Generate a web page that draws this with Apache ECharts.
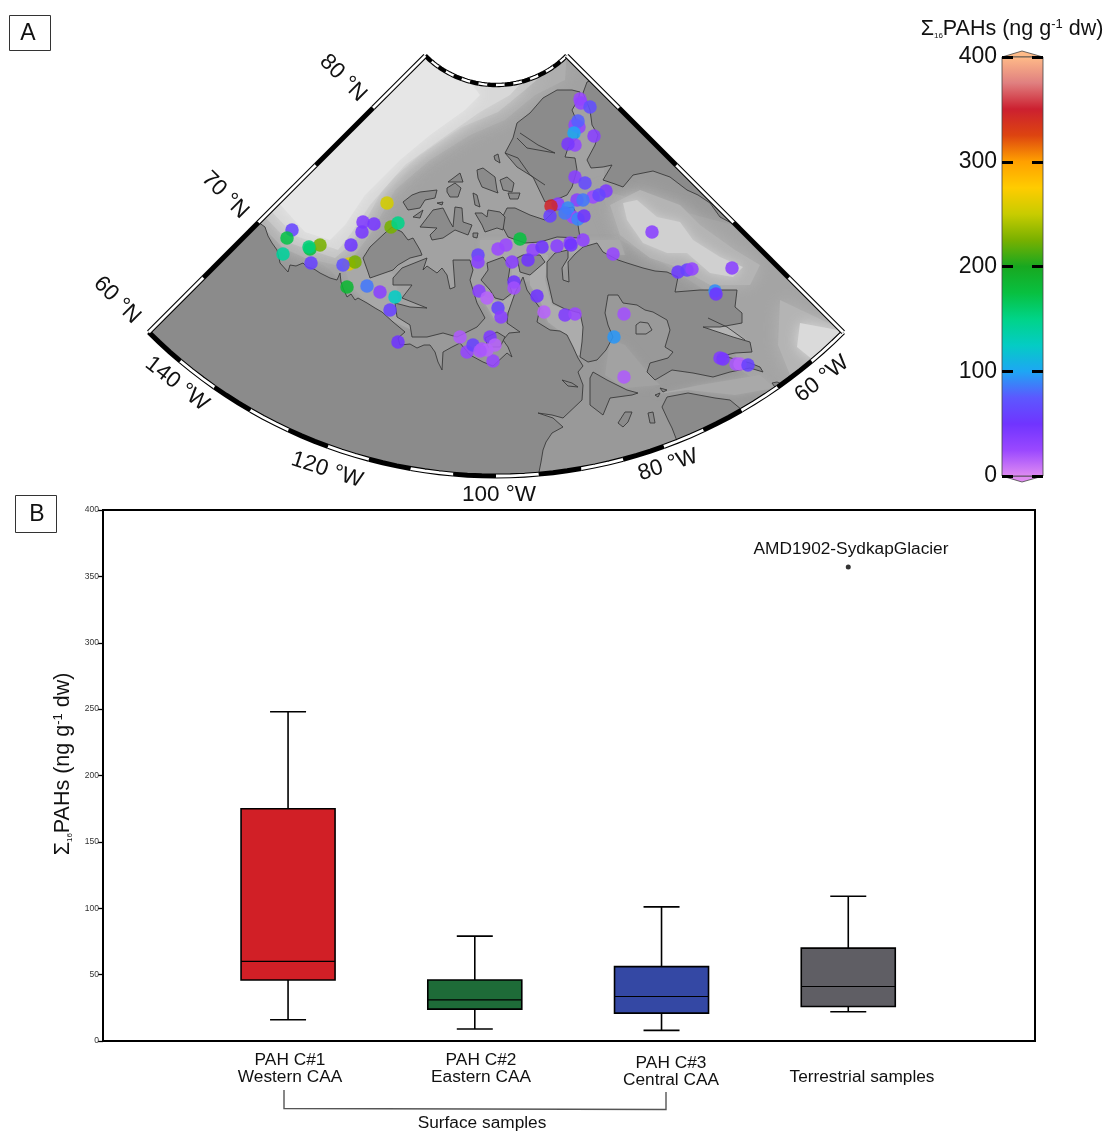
<!DOCTYPE html>
<html><head><meta charset="utf-8">
<style>html,body{margin:0;padding:0;background:#fff}#c{width:1106px;height:1131px}</style>
<script src="https://cdn.jsdelivr.net/npm/echarts@6/dist/echarts.min.js"></script>
</head><body><div id="c"></div>
<script>
// ---------- Panel B data ----------
const boxCategories = ['PAH C#1\nWestern CAA','PAH C#2\nEastern CAA','PAH C#3\nCentral CAA','Terrestrial samples'];
const boxLow    = [16, 9, 8, 22];
const boxQ1     = [46, 24, 21, 26];
const boxMedian = [60, 31, 33.5, 41];
const boxQ3     = [175, 46, 56, 70];
const boxHigh   = [248, 79, 101, 109];
const boxColors = ['#d11f26','#1e6b38','#3448a4','#5f5e64'];
const outlier   = [3, 357];
const outlierName = 'AMD1902-SydkapGlacier';

// ---------- Colour scale: every 25 ng/g from 0 to 400 ----------
const scaleColors = ['#e08cf2','#9a48ff','#7034ff','#5c58ff','#1ea6f4','#04ccc4','#00d488','#08c040','#18a820',
  '#78b000','#c8cc00','#ffcc00','#ffa000','#dd4410','#cc2030','#e08080','#ffbb88'];

// ---------- Stations, in map units: [x, y, sum of 16 PAHs] ----------
const stations = [
 [292,230,62],[287,238,172],[283,254,142],[310,249,175],[320,245,225],[309,247,155],[311,263,60],[351,245,52],
 [363,222,40],[374,224,45],[362,232,45],[387,203,255],[391,227,225],[398,223,150],[349,264,260],[355,262,225],[343,265,70],
 [347,287,185],[367,286,85],[380,292,35],[395,297,125],[390,310,60],[398,342,50],
 [460,337,18],[467,352,28],[473,345,60],[482,349,20],[490,337,42],[493,361,28],[495,345,15],[487,350,15],[480,351,20],
 [478,255,60],[478,262,35],[479,291,35],[487,298,15],[498,308,60],[501,317,35],
 [498,249,25],[506,245,25],[520,239,175],[533,250,30],[542,247,50],[557,246,35],[570,243,35],[571,245,50],[583,240,32],
 [613,254,28],[512,262,35],[528,260,50],[514,282,50],[514,288,22],[537,296,50],[544,312,15],[565,315,40],[575,314,25],
 [624,314,22],[614,337,95],[624,377,18],
 [580,99,25],[581,103,30],[590,107,68],[575,125,30],[579,127,30],[578,121,78],[574,133,100],[575,145,30],[568,144,45],[594,136,35],
 [575,177,35],[585,183,65],[606,191,42],[593,197,25],[599,195,62],[577,200,35],[583,200,85],
 [558,204,35],[551,206,346],[550,216,60],[573,217,25],[568,208,90],[565,213,85],[578,219,90],[584,216,50],
 [652,232,35],[678,272,55],[687,270,60],[692,269,30],[732,268,35],[715,291,92],[716,294,50],
 [720,358,40],[723,359,45],[736,364,20],[740,364,15],[748,365,60]
];

// ---------- Coastlines, in map units ----------
const mainlandCoast = [[258,222],[265,227],[268,236],[272,243],[277,250],[279,258],[280,263],[288,272],[290,265],[296,266],[303,263],[307,267],[314,269],[320,273],[330,278],[337,280],[340,273],[341,282],[343,288],[347,297],[351,294],[355,300],[358,298],[367,303],[375,308],[382,312],[393,322],[405,332],[398,338],[400,345],[410,344],[417,348],[424,345],[430,345],[435,352],[438,362],[442,370],[443,352],[452,347],[460,343],[470,355],[483,362],[493,366],[507,353],[512,357],[508,347],[503,340],[509,333],[520,332],[507,323],[508,313],[515,293],[523,277],[527,290],[534,300],[540,308],[537,322],[550,330],[560,331],[567,335],[573,347],[578,358],[583,366],[578,372],[583,385],[582,400],[563,418],[552,415],[538,413],[553,418],[563,427],[552,433],[546,442],[543,450],[541,462],[538,477]];
const victoriaCoast = [[393,278],[402,268],[427,258],[423,270],[427,266],[437,273],[442,268],[447,275],[450,289],[455,287],[453,260],[470,260],[473,270],[470,280],[477,303],[485,318],[477,327],[467,332],[457,337],[443,333],[427,337],[412,337],[410,325],[397,317],[395,303],[410,307],[427,308],[412,302],[402,298],[412,285],[393,285]];
const banksCoast = [[363,258],[370,247],[385,233],[392,227],[402,232],[408,240],[413,238],[420,250],[422,255],[410,258],[398,265],[393,270],[370,278],[368,272]];
const baffinCoast = [[555,253],[547,262],[547,277],[553,303],[565,309],[580,313],[583,327],[582,342],[580,357],[588,362],[597,360],[606,350],[613,337],[608,325],[605,313],[608,295],[618,295],[623,303],[637,305],[645,310],[653,312],[667,320],[670,330],[665,347],[673,352],[668,358],[650,363],[647,372],[655,380],[672,370],[693,373],[713,377],[730,372],[750,368],[763,372],[760,367],[750,363],[727,357],[717,357],[735,353],[752,352],[750,342],[733,337],[703,327],[720,327],[742,323],[742,313],[735,307],[737,290],[720,290],[700,290],[675,292],[678,277],[667,272],[655,271],[643,268],[627,263],[618,260],[603,252],[597,243],[583,247],[575,254],[568,262],[569,282],[563,280],[562,268],[568,258],[568,250]];
const greenlandCoast = [[592,80],[587,82],[583,93],[590,110],[592,125],[598,135],[595,145],[587,160],[591,168],[603,167],[612,165],[603,180],[615,184],[623,187],[633,175],[653,171],[670,177],[687,190],[698,195],[710,203],[720,217],[737,226]];
const ungavaCoast = [[677,441],[672,428],[668,420],[662,407],[667,397],[688,393],[715,398],[730,400],[742,410]];
const ellesmereCoast = [[557,90],[572,90],[580,92],[578,100],[572,110],[575,117],[578,125],[578,137],[568,148],[565,157],[575,158],[577,170],[572,187],[567,195],[560,198],[545,202],[533,177],[517,167],[505,153],[513,138],[517,123],[530,113],[543,98]];
const devonCoast = [[507,208],[515,208],[530,215],[545,220],[555,210],[573,207],[577,215],[578,225],[580,238],[557,237],[540,242],[525,243],[508,237],[500,222]];
const melvilleCoast = [[420,227],[433,210],[443,208],[450,222],[453,227],[455,207],[462,208],[463,222],[472,225],[468,235],[455,230],[443,238],[432,240],[430,235],[437,228]];
const patrickCoast = [[403,202],[412,195],[420,192],[437,190],[435,198],[425,200],[420,208],[408,210]];
const ringnesCoast = [[477,170],[483,168],[495,177],[497,190],[498,193],[490,190],[482,187],[478,178]];
const amundCoast = [[500,180],[507,177],[514,183],[512,192],[503,190]];
const bathurstCoast = [[475,213],[482,213],[487,217],[488,210],[500,212],[505,217],[503,230],[497,228],[485,232],[482,225]];
const borden1Coast = [[447,188],[455,183],[461,188],[458,197],[450,197],[447,192]];
const borden2Coast = [[448,182],[460,173],[463,182]];
const walesCoast = [[487,263],[503,257],[510,267],[508,280],[512,293],[503,300],[495,298],[490,290],[481,280],[488,270]];
const somersetCoast = [[517,258],[523,255],[540,255],[545,262],[530,275],[520,272]];
const kingWmCoast = [[485,338],[497,332],[505,337],[500,347],[488,347]];
const southamptonCoast = [[590,378],[590,405],[603,415],[610,398],[632,395],[638,393],[627,390],[607,380],[593,372]];
const smallIslands = [[[618,423],[625,412],[632,412],[628,422],[623,427]],[[648,413],[653,412],[655,423],[650,423]],[[655,395],[660,393],[658,397]],[[660,388],[667,390],[663,392]],
 [[413,217],[423,210],[420,218]],[[437,203],[443,202],[442,205]],[[473,193],[477,195],[480,207],[475,205]],[[494,156],[498,154],[500,163],[495,160]],[[508,193],[520,193],[518,199],[510,199]],[[473,233],[478,233],[477,238],[473,237]],[[562,380],[572,383],[578,387],[568,386]],[[772,383],[777,382],[785,385],[777,390]]];
const extraCoasts = [[[517,138],[527,148],[555,153],[538,145],[520,133]],[[505,153],[518,158],[530,175],[545,185]],[[636,325],[636,334],[646,334],[652,330],[648,323],[640,322],[636,325]],[[708,318],[727,327],[745,340]]];

// ---------- Sea-floor shading, in map units ----------
const deepL0 = [[258,222],[330,270],[360,300],[420,320],[480,300],[620,245],[605,190],[600,90]];
const deepL1 = [[258,222],[283,248],[305,258],[335,265],[352,258],[372,232],[395,190],[430,160],[470,135],[505,120],[535,95],[565,80]];
const deepL2 = [[264,216],[290,243],[310,250],[335,258],[350,245],[365,222],[385,185],[420,155],[462,127],[498,112],[525,90],[546,72]];
const deepL3 = [[270,210],[295,236],[318,243],[338,250],[352,232],[370,205],[405,165],[440,140],[480,112],[510,95],[522,82]];
const deepL4 = [[278,202],[305,232],[330,240],[345,225],[365,195],[400,160],[430,135],[465,110],[480,95],[470,82]];
const baffinShelf = [[600,190],[737,226],[845,331],[775,392],[740,370],[720,300],[650,255],[620,240]];
const baffinMid = [[610,205],[640,190],[680,205],[700,225],[735,250],[760,265],[750,285],[710,285],[680,268],[650,258],[620,235]];
const baffinCore = [[623,203],[637,200],[657,217],[680,222],[693,240],[720,257],[743,267],[733,277],[710,273],[687,253],[667,253],[643,243],[627,220]];
const labradorMid = [[780,300],[845,331],[810,365],[790,375],[778,345]];
const labradorCore = [[800,323],[843,331],[813,360],[797,347]];
const strait = [[650,395],[700,385],[760,375],[775,388],[735,395],[688,390]];
const frobisher = [[708,318],[727,327],[745,340],[740,346],[722,336],[705,325]];
const boothiaBand = [[530,250],[548,255],[545,280],[552,305],[582,315],[585,355],[575,355],[565,335],[548,322],[540,300],[530,285]];
const peelBand = [[512,262],[520,262],[518,290],[510,310],[495,320],[480,295],[500,302],[512,296]];
const parryBand = [[480,240],[620,240],[625,255],[555,252],[520,255],[480,262]];
const amundsenBand = [[343,262],[360,258],[395,275],[400,310],[412,330],[390,320],[365,300],[350,285]];
const foxeBand = [[610,340],[625,345],[650,375],[660,385],[625,388],[605,375]];

// ---------- Map frame: graticule in degrees and map units ----------
const lonStepAngles = [-45,-40,-35,-30,-25,-20,-15,-10,-5,0,5,10,15,20,25,30,35,40,45];
const latRadii = [100,174,255,336,414,491];

const poleX = 496, poleY = -15;
const rad = d => d*Math.PI/180;
const polar = (a,r) => [poleX + r*Math.sin(rad(a)), poleY + r*Math.cos(rad(a))];
const arc = (a,b,r) => { const out=[], n=Math.max(2,Math.ceil(Math.abs(b-a)/2)); for(let i=0;i<=n;i++) out.push(polar(a+(b-a)*i/n,r)); return out; };
const rIn = latRadii[0], rOut = latRadii[latRadii.length-1];
const sector = arc(-45,45,rOut).concat(arc(45,-45,rIn));
const LAND = '#8b8b8b';

const depthShapes = [
 {p:deepL0.concat(arc(45,-45,rIn)), f:'#a2a2a2', b:10},
 {p:deepL1.concat(arc(45,-45,rIn)), f:'#aeaeae', b:18},
 {p:deepL2.concat(arc(30,-45,rIn)), f:'#c4c4c4', b:18},
 {p:deepL3.concat(arc(15,-45,rIn)), f:'#d8d8d8', b:16},
 {p:deepL4.concat(arc(-15,-45,rIn)), f:'#e6e6e6', b:14},
 {p:baffinShelf, f:'#a4a4a4', b:16},
 {p:baffinMid, f:'#b4b4b4', b:16},
 {p:baffinCore, f:'#d0d0d0', b:12},
 {p:labradorMid, f:'#b4b4b4', b:18},
 {p:labradorCore, f:'#dadada', b:14},
 {p:strait, f:'#a9a9a9', b:6},
 {p:frobisher, f:'#b4b4b4', b:4},
 {p:boothiaBand, f:'#acacac', b:5},
 {p:peelBand, f:'#acacac', b:5},
 {p:parryBand, f:'#a9a9a9', b:5},
 {p:amundsenBand, f:'#a8a8a8', b:5},
 {p:foxeBand, f:'#a2a2a2', b:10}
];
const landCoasts = [victoriaCoast,banksCoast,baffinCoast,ellesmereCoast,devonCoast,melvilleCoast,patrickCoast,ringnesCoast,amundCoast,bathurstCoast,borden1Coast,borden2Coast,walesCoast,somersetCoast,kingWmCoast,southamptonCoast].concat(smallIslands);

const mapShapes = [{fill:sector, fc:'#999999'}]
 .concat(depthShapes.map(d=>({fill:d.p, fc:d.f, blur:d.b})))
 .concat([{fill:mainlandCoast.concat(arc(5,-45,rOut)), fc:LAND, line:mainlandCoast},
          {fill:greenlandCoast, fc:LAND, line:greenlandCoast},
          {fill:ungavaCoast.concat(arc(28,23,rOut)), fc:LAND, line:ungavaCoast}])
 .concat(landCoasts.map(c=>({fill:c, fc:LAND, line:c.concat([c[0]])})))
 .concat(extraCoasts.map(c=>({line:c})));

// frame pieces: alternating black and white bands along the four sides
const frameSegs = [];
for(let i=0;i<lonStepAngles.length-1;i++){
  const a=lonStepAngles[i], b=lonStepAngles[i+1], black=i%2===0;
  frameSegs.push({p:arc(a,b,rOut),black}); frameSegs.push({p:arc(a,b,rIn),black,w:4.5});
}
for(let i=0;i<latRadii.length-1;i++){
  const black=i%2===1, r0=latRadii[i], r1=latRadii[i+1];
  frameSegs.push({p:[polar(-45,r0),polar(-45,r1)],black}); frameSegs.push({p:[polar(45,r0),polar(45,r1)],black});
}

const capShapes = [
 {pts:[[1002,57],[1022,51],[1043,57]], c:scaleColors[16]},
 {pts:[[1002,476],[1022,482],[1043,476]], c:scaleColors[0]}
];

const toPx = (api,pts)=>pts.map(p=>api.coord(p));
const font = 'Liberation Sans, Arial, Helvetica, sans-serif';
const pahRich = (s,sub,sup)=>({a:{fontSize:s,fontFamily:font,fill:'#111'},s:{fontSize:sub,fontFamily:font,fill:'#111',verticalAlign:'bottom',padding:[8,0,0,0]},u:{fontSize:sup,fontFamily:font,fill:'#111',verticalAlign:'top',padding:[0,0,6,0]}});
const pahText = '{a|Σ}{s|16}{a|PAHs (ng g}{u|-1}{a| dw)}';

const txt = (x,y,t,size,rotDeg)=>({type:'text',x,y,rotation:rad(rotDeg||0),z:20,
  style:{text:t,fontSize:size,fontFamily:font,fill:'#111',align:'center',verticalAlign:'middle',lineHeight:17}});
const boxRect = (x,y,w,h)=>({type:'rect',z:19,shape:{x,y,width:w,height:h},style:{fill:'#fff',stroke:'#333',lineWidth:1}});

const mapLabelFont = 22.5, catFont = 17.3;
const graphics = [
 boxRect(9.5,15.5,41,35), txt(28,34,'A',23),
 boxRect(15.5,495.5,41,37), txt(37,515,'B',23),
 txt(343,78,'80 °N',mapLabelFont,-45), txt(225,195,'70 °N',mapLabelFont,-45), txt(117,300,'60 °N',mapLabelFont,-45),
 txt(177,384,'140 °W',mapLabelFont,-38), txt(327,470,'120 °W',mapLabelFont,-18), txt(499,495,'100 °W',mapLabelFont,0),
 txt(668,465,'80 °W',mapLabelFont,18), txt(822,379,'60 °W',mapLabelFont,38),
 {type:'text',x:1012,y:29,z:20,style:{text:pahText,rich:pahRich(21.5,8,13),align:'center',verticalAlign:'middle'}},
 {type:'text',x:63,y:764,z:20,rotation:Math.PI/2,style:{text:pahText,rich:pahRich(21.5,8,13),align:'center',verticalAlign:'middle'}},
 txt(290,1069,boxCategories[0],catFont), txt(481,1069,boxCategories[1],catFont), txt(671,1072,boxCategories[2],catFont), txt(862,1077,boxCategories[3],catFont),
 txt(482,1123,'Surface samples',catFont),
 txt(851,549,outlierName,catFont),
 {type:'polyline',z:19,shape:{points:[[284,1090],[284,1108.5],[666,1109.5],[666,1092]]},style:{fill:null,stroke:'#555',lineWidth:1.4}}
];

const option = {
 animation:false, backgroundColor:'#fff',
 visualMap:{show:false,type:'continuous',min:0,max:400,dimension:2,seriesIndex:1,inRange:{color:scaleColors}},
 grid:[
  {left:0,top:0,width:1106,height:1131,show:false},
  {left:103,top:510,width:932,height:531,show:true,borderColor:'#000',borderWidth:2,backgroundColor:'transparent'},
  {left:1002,top:57,width:41,height:419,show:false}
 ],
 xAxis:[
  {gridIndex:0,type:'value',min:0,max:1106,show:false},
  {gridIndex:1,type:'value',min:-0.991,max:4,axisLabel:{show:false},axisTick:{show:false},splitLine:{show:false},axisLine:{show:false}},
  {gridIndex:2,type:'value',min:0,max:1,show:false}
 ],
 yAxis:[
  {gridIndex:0,type:'value',min:0,max:1131,inverse:true,show:false},
  {gridIndex:1,type:'value',min:0,max:400,interval:50,splitLine:{show:false},
    axisLine:{show:true,onZero:false,lineStyle:{color:'#000',width:2}},axisTick:{length:5,lineStyle:{color:'#000',width:1.3}},
    axisLabel:{fontSize:8.5,color:'#333',margin:4,fontFamily:font}},
  {gridIndex:2,type:'value',min:0,max:400,interval:100,splitLine:{show:false},z:8,
    axisLine:{show:false,onZero:false},axisTick:{show:true,inside:true,length:11,lineStyle:{color:'#000',width:3}},
    axisLabel:{fontSize:23,color:'#111',margin:5,fontFamily:font,padding:[3,0,0,0]}},
  {gridIndex:2,type:'value',position:'right',min:0,max:400,interval:100,splitLine:{show:false},z:8,
    axisLine:{show:false,onZero:false},axisTick:{show:true,inside:true,length:11,lineStyle:{color:'#000',width:3}},
    axisLabel:{show:false}}
 ],
 series:[
  {type:'custom',name:'map',xAxisIndex:0,yAxisIndex:0,coordinateSystem:'cartesian2d',clip:false,z:2,silent:true,
   data:mapShapes.map((s,i)=>[i,0]),encode:{x:0,y:1},
   renderItem:(params,api)=>{
     const s=mapShapes[api.value(0)], kids=[];
     if(s.fill){
       const el={type:'polygon',shape:{points:toPx(api,s.fill)},style:{fill:s.fc,stroke:null}};
       if(s.blur){el.style.shadowBlur=s.blur;el.style.shadowColor=s.fc;}
       kids.push(el);
     }
     if(s.line) kids.push({type:'polyline',shape:{points:toPx(api,s.line)},style:{fill:null,stroke:'#3a3a3a',lineWidth:0.9}});
     return {type:'group',children:kids,clipPath:{type:'polygon',shape:{points:toPx(api,sector)}}};
   }},
  {type:'scatter',name:'stations',xAxisIndex:0,yAxisIndex:0,z:5,clip:false,symbolSize:13.5,silent:true,
   itemStyle:{opacity:0.88},data:stations},
  {type:'custom',name:'frame',xAxisIndex:0,yAxisIndex:0,clip:false,z:6,silent:true,
   data:frameSegs.map((s,i)=>[i,0]),encode:{x:0,y:1},
   renderItem:(params,api)=>{
     const s=frameSegs[api.value(0)], pts=toPx(api,s.p), w=s.w||5, kids=[
       {type:'polyline',shape:{points:pts},style:{fill:null,stroke:'#000',lineWidth:w}}];
     if(!s.black) kids.push({type:'polyline',shape:{points:pts},style:{fill:null,stroke:'#fff',lineWidth:w-2.2}});
     return {type:'group',children:kids};
   }},
  {type:'custom',name:'scale',xAxisIndex:2,yAxisIndex:2,clip:false,z:4,silent:true,
   data:[[0,0]],encode:{x:0,y:1},
   renderItem:(params,api)=>{
     const a=api.coord([0,400]), b=api.coord([1,0]);
     const stops=scaleColors.map((c,i)=>({offset:1-i/(scaleColors.length-1),color:c})).reverse();
     return {type:'rect',shape:{x:a[0],y:a[1],width:b[0]-a[0],height:b[1]-a[1]},
       style:{fill:{type:'linear',x:0,y:0,x2:0,y2:1,colorStops:stops},stroke:'#444',lineWidth:0.8}};
   }},
  {type:'custom',name:'scaleCaps',xAxisIndex:0,yAxisIndex:0,clip:false,z:3,silent:true,
   data:capShapes.map((s,i)=>[i,0]),encode:{x:0,y:1},
   renderItem:(params,api)=>{
     const s=capShapes[api.value(0)];
     return {type:'polygon',shape:{points:toPx(api,s.pts)},style:{fill:s.c,stroke:'#444',lineWidth:0.8}};
   }},
  {type:'custom',name:'boxes',xAxisIndex:1,yAxisIndex:1,clip:false,z:4,silent:true,
   data:boxLow.map((v,i)=>[i,boxLow[i],boxQ1[i],boxMedian[i],boxQ3[i],boxHigh[i]]),
   encode:{x:0,y:[1,2,3,4,5]},
   renderItem:(params,api)=>{
     const i=api.value(0), y=k=>api.coord([i,api.value(k)])[1], x=api.coord([i,0])[0];
     const hw=47, cap=18, ln={stroke:'#000',lineWidth:1.6,fill:null};
     const L=(x1,y1,x2,y2,st)=>({type:'line',shape:{x1,y1,x2,y2},style:st||ln});
     return {type:'group',children:[
       L(x,y(1),x,y(2)), L(x,y(4),x,y(5)), L(x-cap,y(1),x+cap,y(1)), L(x-cap,y(5),x+cap,y(5)),
       {type:'rect',shape:{x:x-hw,y:y(4),width:2*hw,height:y(2)-y(4)},style:{fill:boxColors[i],stroke:'#000',lineWidth:1.6}},
       L(x-hw,y(3),x+hw,y(3),{stroke:'#000',lineWidth:1.1,fill:null})
     ]};
   }},
  {type:'scatter',name:'outlier',xAxisIndex:1,yAxisIndex:1,z:5,symbolSize:5,silent:true,itemStyle:{color:'#000'},data:[outlier]}
 ],
 graphic:graphics
};
const chart = echarts.init(document.getElementById('c'),null,{renderer:'canvas'});
chart.setOption(option);
</script></body></html>
